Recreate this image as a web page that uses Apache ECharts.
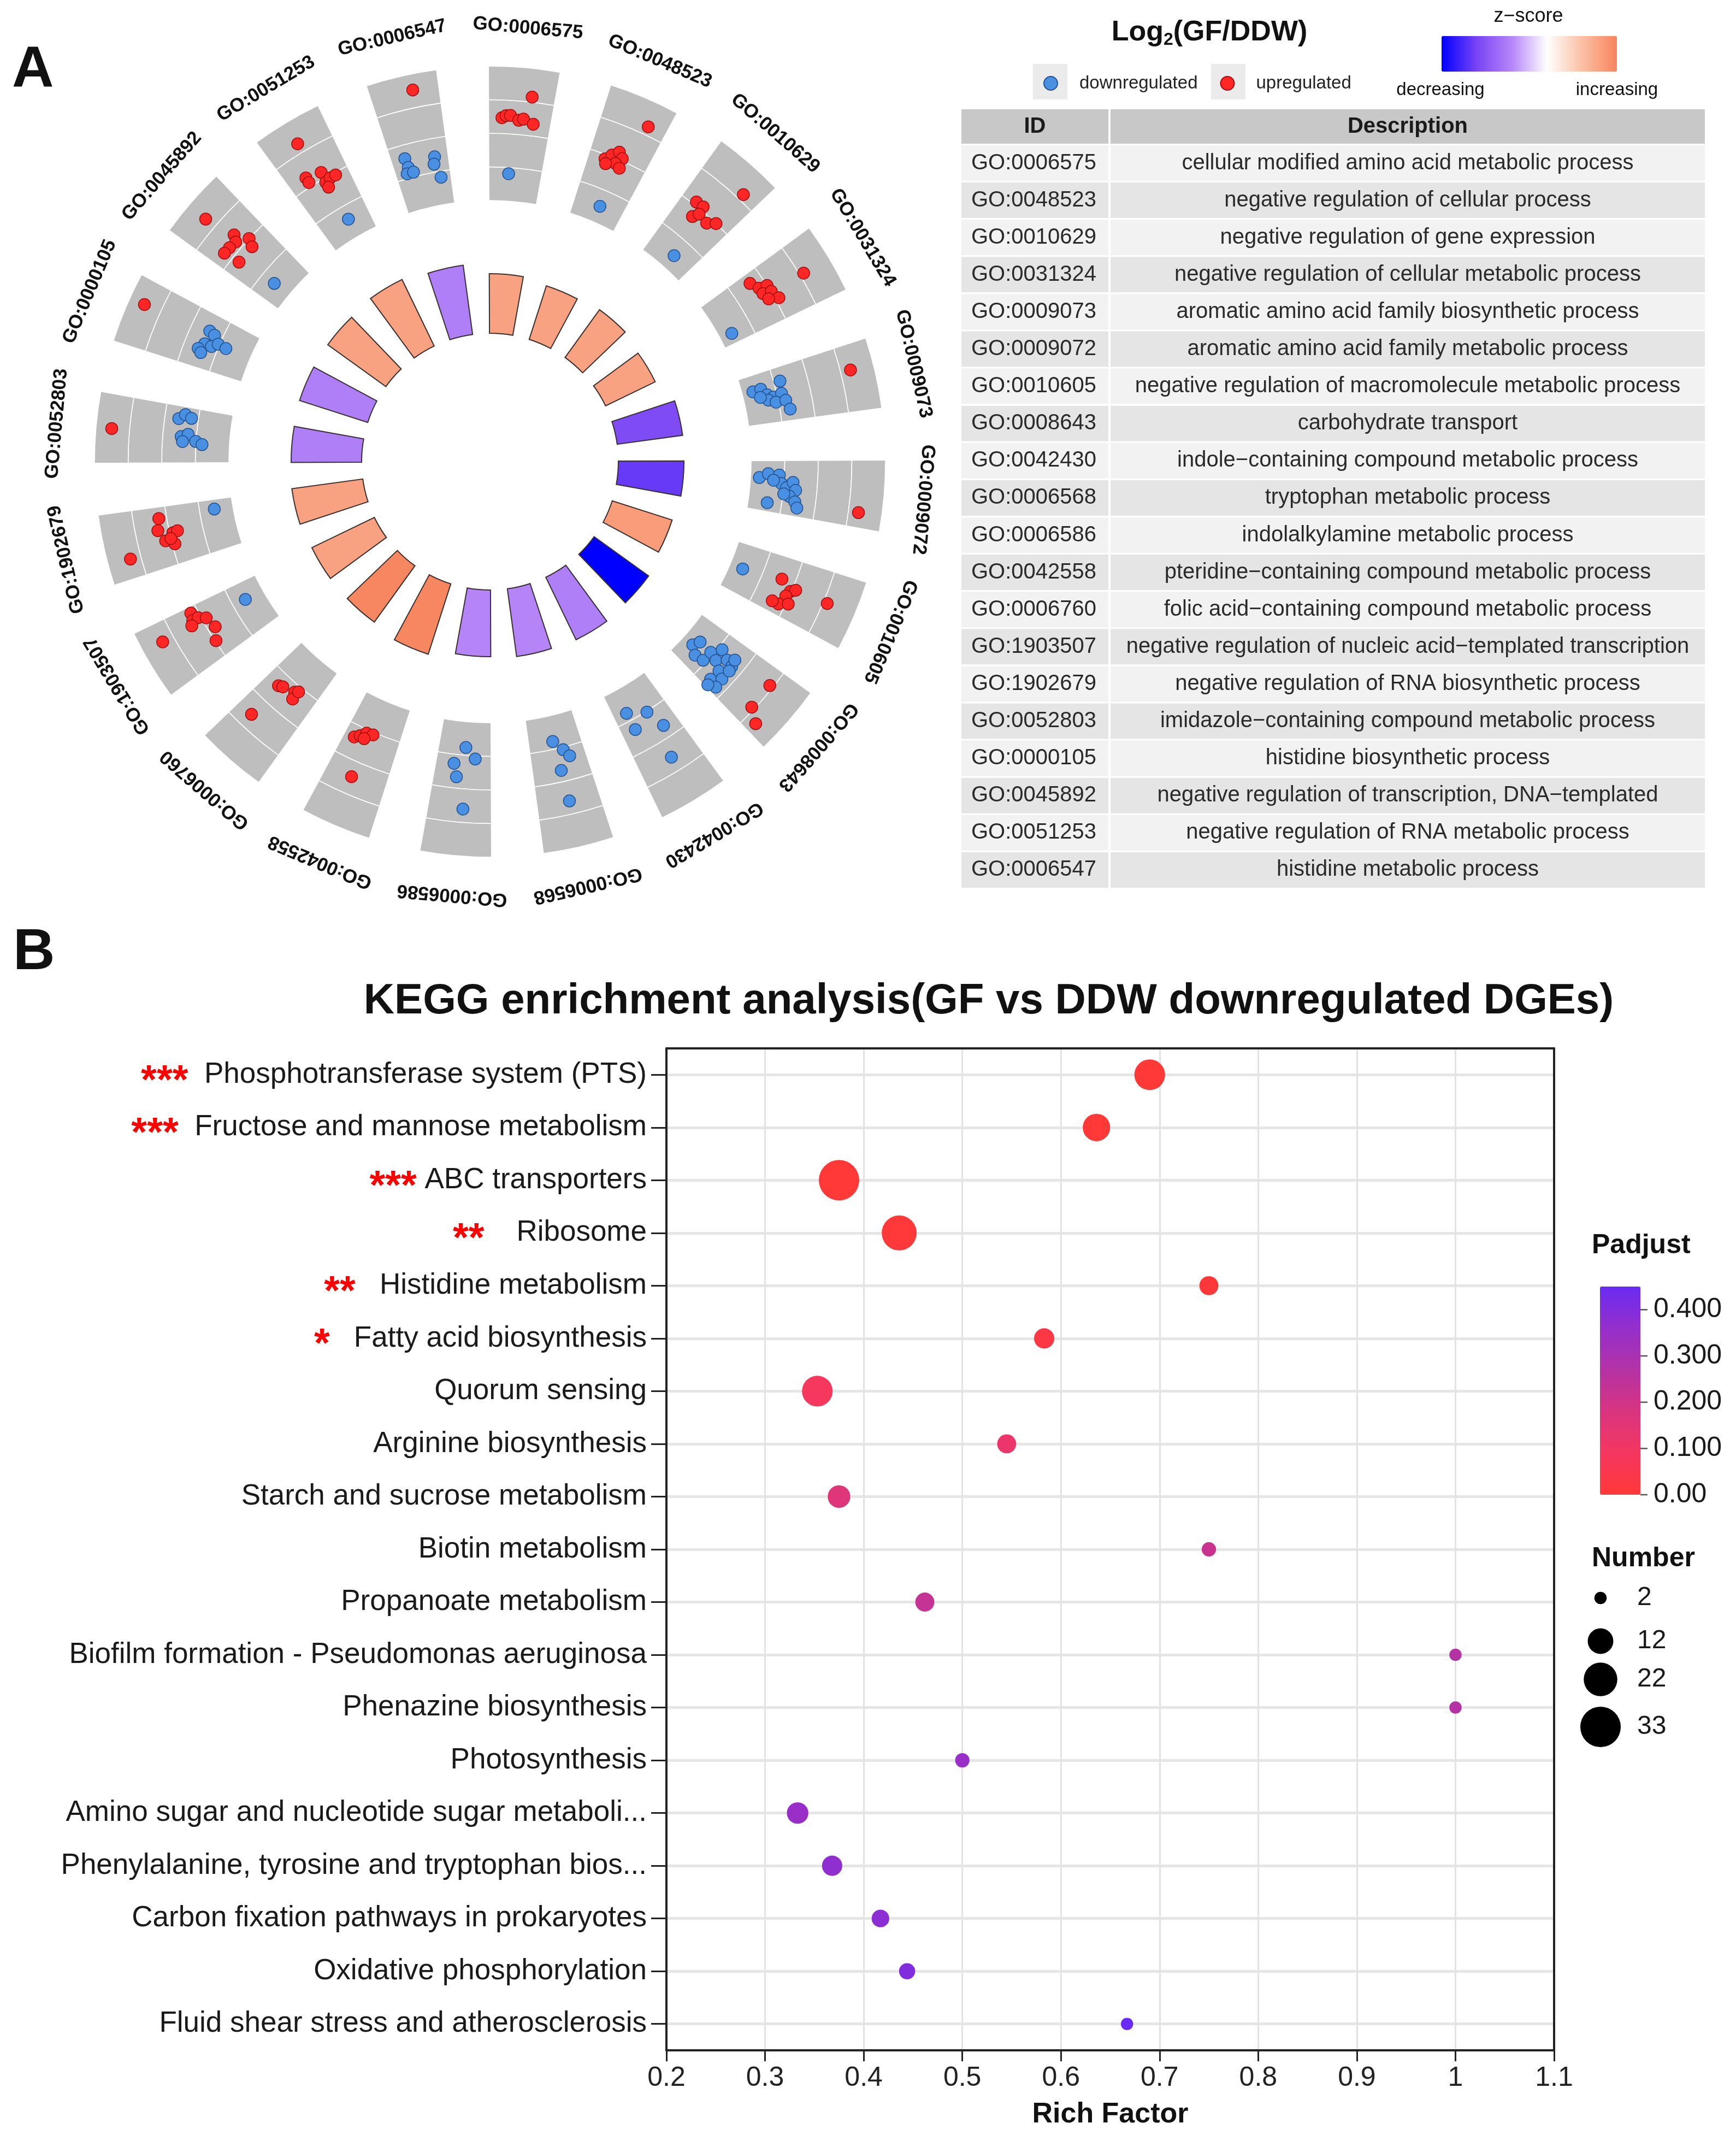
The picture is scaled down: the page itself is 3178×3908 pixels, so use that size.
<!DOCTYPE html>
<html><head><meta charset="utf-8">
<script src="https://cdn.jsdelivr.net/npm/echarts@6/dist/echarts.min.js"></script>
<style>html,body{margin:0;padding:0;background:#fff}#c{width:3178px;height:3908px}</style>
</head><body><div id="c"></div>
<script>
// ---------------- Panel A data ----------------
const goIds = ['GO:0006575','GO:0048523','GO:0010629','GO:0031324','GO:0009073','GO:0009072','GO:0010605','GO:0008643','GO:0042430','GO:0006568','GO:0006586','GO:0042558','GO:0006760','GO:1903507','GO:1902679','GO:0052803','GO:0000105','GO:0045892','GO:0051253','GO:0006547'];
const goDesc = ['cellular modified amino acid metabolic process','negative regulation of cellular process','negative regulation of gene expression','negative regulation of cellular metabolic process','aromatic amino acid family biosynthetic process','aromatic amino acid family metabolic process','negative regulation of macromolecule metabolic process','carbohydrate transport','indole\u2212containing compound metabolic process','tryptophan metabolic process','indolalkylamine metabolic process','pteridine\u2212containing compound metabolic process','folic acid\u2212containing compound metabolic process','negative regulation of nucleic acid\u2212templated transcription','negative regulation of RNA biosynthetic process','imidazole\u2212containing compound metabolic process','histidine biosynthetic process','negative regulation of transcription, DNA\u2212templated','negative regulation of RNA metabolic process','histidine metabolic process'];
// inner ring: significance (bar height) and z-score (colour)
const innerSig = [3.76,3.55,3.72,3.48,4.17,4.14,3.97,4.24,4.38,4.31,4.21,4.66,4.38,4.38,4.52,4.45,4.52,4.52,4.66,4.41];
const innerZ = [1.5,1.5,1.5,1.5,-1.9,-2.15,1.6,-3,-1.1,-1.0,-1.0,1.95,1.95,1.5,1.5,-1.1,-1.1,1.5,1.5,-1.1];
// outer ring genes: [position along circle (term units), log2FC]
const upDots = [
 [0.589,2.3],[0.333,0.94],[0.37,1.07],[0.411,1.1],[0.49,0.85],[0.533,0.94],[0.628,0.7],
 [1.628,2.5],[1.378,-0.26],[1.428,0.1],[1.483,0.42],[1.533,0.13],[1.489,-0.29],[1.544,-0.46],[1.40,-0.52],
 [2.639,2.37],[2.361,0.2],[2.44,0.23],[2.42,-0.62],[2.456,-0.26],[2.57,-0.36],[2.64,0],
 [3.5,2.24],[3.31,-0.78],[3.4,-0.49],[3.42,0],[3.466,-0.46],[3.49,0.03],[3.58,0.23],[3.54,-0.33],
 [4.43,2.6],
 [5.66,2.6],
 [6.44,-0.81],[6.52,-0.06],[6.49,0.2],[6.58,-0.2],[6.68,-0.39],[6.68,-0.81],[6.64,0.13],[6.49,2.24],
 [7.37,1.79],[7.62,1.82],[7.7,2.67],
 [11.68,-1.27],[11.63,-1.5],[11.58,-1.79],[11.51,-1.85],[11.58,-1.43],[11.54,0.94],
 [12.63,-1.2],[12.59,-1.33],[12.46,-1.56],[12.43,-1.17],[12.43,-1.72],[12.63,1.14],
 [13.73,0.42],[13.66,0.52],[13.66,0.16],[13.62,-0.26],[13.5,-0.46],[13.38,-0.06],[13.62,0.72],[13.62,2.7],
 [14.68,0.46],[14.57,0.65],[14.46,0.33],[14.52,-0.2],[14.53,-0.49],[14.41,-0.16],[14.47,0],[14.38,2.63],
 [15.5,3.06],
 [16.58,3.05],
 [17.47,2.7],[17.53,0.81],[17.49,0.46],[17.41,0.52],[17.34,0.55],[17.6,0],[17.56,-0.46],[17.36,-0.46],
 [18.49,2.57],[18.39,0.59],[18.39,0.26],[18.54,0.39],[18.53,-0.26],[18.59,-0.16],[18.65,-0.16],[18.53,-0.59],
 [19.57,3.05]
];
const downDots = [
 [0.428,-2.37],
 [1.517,-3.0],
 [2.544,-3.1],
 [3.67,-3.25],
 [4.396,-3.35],[4.39,-2.86],[4.47,-2.57],[4.51,-2.24],[4.49,-1.72],[4.36,-1.63],[4.53,-2.57],[4.57,-2.15],[4.57,-1.56],[4.67,-1.4],[4.48,-3.0],
 [5.41,-3.48],[5.36,-2.96],[5.37,-2.3],[5.46,-2.15],[5.5,-1.82],[5.44,-1.46],[5.52,-1.27],[5.59,-1.6],[5.64,-1.24],[5.7,-1.07],[5.69,-2.86],[5.43,-2.63],[5.57,-1.95],
 [6.5,-3.2],
 [7.56,-3.28],[7.48,-3.06],[7.63,-2.76],[7.61,-2.2],[7.49,-2.18],[7.52,-1.63],[7.39,-1.76],[7.44,-1.14],[7.46,-0.68],[7.58,-1.07],[7.7,-1.1],[7.62,-0.62],[7.51,-0.62],[7.39,-0.78],[7.72,-0.55],[7.76,-0.98],
 [8.64,-2.5],[8.44,-1.95],[8.64,-1.4],[8.37,-0.75],[8.47,1.1],
 [9.52,-2.47],[9.43,-1.85],[9.38,-1.4],[9.5,-0.68],[9.49,1.2],
 [10.49,-2.47],[10.38,-1.82],[10.6,-1.46],[10.56,-0.68],[10.47,1.2],
 [13.59,-2.83],
 [14.68,-2.89],
 [15.66,-0.84],[15.71,-1.2],[15.68,-1.59],[15.48,-1.1],[15.51,-1.5],[15.44,-1.98],[15.41,-2.37],[15.43,-1.2],
 [16.61,-1.14],[16.59,-1.5],[16.47,-1.17],[16.4,-0.91],[16.47,-1.6],[16.52,-1.92],[16.51,-2.44],[16.37,-1.14],
 [17.42,-2.89],
 [18.54,-2.83],
 [19.35,-0.81],[19.36,-1.37],[19.33,-1.72],[19.4,-1.72],[19.65,-1.1],[19.63,-1.53],[19.68,-2.37]
];
// ---------------- Panel B data ----------------
const keggTerms = ['Phosphotransferase system (PTS)','Fructose and mannose metabolism','ABC transporters','Ribosome','Histidine metabolism','Fatty acid biosynthesis','Quorum sensing','Arginine biosynthesis','Starch and sucrose metabolism','Biotin metabolism','Propanoate metabolism','Biofilm formation - Pseudomonas aeruginosa','Phenazine biosynthesis','Photosynthesis','Amino sugar and nucleotide sugar metaboli...','Phenylalanine, tyrosine and tryptophan bios...','Carbon fixation pathways in prokaryotes','Oxidative phosphorylation','Fluid shear stress and atherosclerosis'];
const keggStars = ['***','***','***','**','**','*','','','','','','','','','','','','',''];
const keggStarSpaces = [2,2,1,4,3,3,0,0,0,0,0,0,0,0,0,0,0,0,0];
const keggRich = [0.69,0.636,0.375,0.436,0.75,0.583,0.353,0.545,0.375,0.75,0.462,1,1,0.5,0.333,0.368,0.417,0.444,0.667];
const keggPadj = [0.0001,0.0002,0.0003,0.002,0.005,0.03,0.085,0.12,0.16,0.22,0.23,0.27,0.27,0.35,0.35,0.37,0.38,0.40,0.45];
const keggCount = [18,14,33,24,6,7,18,6,9,3,6,2,2,3,8,7,5,4,2];
const padjTicks = [0, 0.1, 0.2, 0.3, 0.4];
const padjTickLabels = ['0.00','0.100','0.200','0.300','0.400'];
const numberBreaks = [2, 12, 22, 33];

// ---------------- layout / styles ----------------
const FONT = '"Liberation Sans", Arial, sans-serif';
const CX = 897, CY = 845;
const sizeOf = n => 5.7 + 11.9 * Math.sqrt(n);

const chart = echarts.init(document.getElementById('c'), null, {renderer: 'canvas'});

const bandSeries = [0,1,2,3].map(b => ({
  type: 'bar', coordinateSystem: 'polar', polarIndex: 0, stack: 'ring', silent: true, z: 2,
  barCategoryGap: '42%',
  data: goIds.map(() => 1),
  itemStyle: {color: '#BEBEBE', borderColor: '#ffffff', borderWidth: 1.6}
}));

const series = bandSeries.concat([
  {
    name: 'downregulated', type: 'scatter', coordinateSystem: 'polar', polarIndex: 1, z: 4,
    symbolSize: 22, data: downDots.map(d => [d[1], d[0]]),
    itemStyle: {color: '#4A90E2', borderColor: '#23528f', borderWidth: 1.5, opacity: 1}
  },
  {
    name: 'upregulated', type: 'scatter', coordinateSystem: 'polar', polarIndex: 1, z: 4,
    symbolSize: 22, data: upDots.map(d => [d[1], d[0]]),
    itemStyle: {color: '#FF2626', borderColor: '#a01010', borderWidth: 1.5, opacity: 1}
  },
  {
    type: 'bar', coordinateSystem: 'polar', polarIndex: 2, z: 3, silent: true,
    barCategoryGap: '42%',
    encode: {radius: 0, angle: 1},
    data: goIds.map((id, i) => [innerSig[i], i, innerZ[i]]),
    itemStyle: {borderColor: '#3a3030', borderWidth: 2}
  },
  {
    type: 'custom', coordinateSystem: 'polar', polarIndex: 0, silent: true, z: 5,
    data: goIds.map((id, i) => [4, i]),
    renderItem: (params, api) => {
      const i = params.dataIndex;
      const p = api.coord([4, i]);
      const cs = params.coordSys;
      const dx = p[0] - cs.cx, dy = p[1] - cs.cy;
      const len = Math.hypot(dx, dy);
      const k = (len + 72) / len;
      const ang = Math.atan2(dy, dx);
      return {
        type: 'text', x: cs.cx + dx * k, y: cs.cy + dy * k, rotation: -(ang + Math.PI / 2),
        style: {text: goIds[i], fill: '#111', fontSize: 35, fontWeight: 'bold', fontFamily: FONT, align: 'center', verticalAlign: 'middle'}
      };
    }
  },
  {
    name: 'kegg', type: 'scatter', xAxisIndex: 0, yAxisIndex: 0, z: 4,
    encode: {x: 0, y: 1},
    data: keggTerms.map((t, i) => [keggRich[i], t, keggPadj[i], keggCount[i]]),
    symbolSize: v => sizeOf(v[3]),
    itemStyle: {opacity: 1}
  }
]);
const innerIdx = 6, keggIdx = 8;

// ---------------- graphics (labels, legends, table) ----------------
const g = [];
const txt = (x, y, text, size, opt) => Object.assign({
  type: 'text', x, y, silent: true,
  style: Object.assign({text, fontSize: size, fontFamily: FONT, fill: '#111', align: 'left', verticalAlign: 'middle'}, opt || {})
});
g.push(txt(22, 130, 'A', 106, {fontWeight: 'bold'}));
g.push(txt(24, 1745, 'B', 106, {fontWeight: 'bold'}));
g.push(txt(1810, 1833, 'KEGG enrichment analysis(GF vs DDW downregulated DGEs)', 78, {fontWeight: 'bold', align: 'center'}));
g.push({type: 'text', x: 2214, y: 60, silent: true, style: {
  text: '{a|Log}{b|2}{a|(GF/DDW)}', align: 'center', verticalAlign: 'middle', fill: '#111',
  rich: {a: {fontSize: 52, fontWeight: 'bold', fontFamily: FONT, fill: '#111'},
         b: {fontSize: 32, fontWeight: 'bold', fontFamily: FONT, fill: '#111', padding: [26, 0, 0, 0]}}
}});
g.push({type: 'rect', silent: true, shape: {x: 1891, y: 117, width: 63, height: 65}, style: {fill: '#EBEBEB'}});
g.push({type: 'rect', silent: true, shape: {x: 2217, y: 117, width: 63, height: 65}, style: {fill: '#EBEBEB'}});
g.push(txt(2798, 30, 'z\u2212score', 36, {align: 'center'}));
g.push(txt(2637, 165, 'decreasing', 33, {align: 'center'}));
g.push(txt(2960, 165, 'increasing', 33, {align: 'center'}));
// table
const TX = 1760, IDW = 269, DX = 2033, DW = 1088, HY = 200, HH = 63, RY = 266, RS = 68.1, RH = 65;
g.push({type: 'rect', silent: true, shape: {x: TX, y: HY, width: IDW, height: HH}, style: {fill: '#C8C8C8'}});
g.push({type: 'rect', silent: true, shape: {x: DX, y: HY, width: DW, height: HH}, style: {fill: '#C8C8C8'}});
g.push(txt(TX + IDW / 2, HY + HH / 2, 'ID', 40, {fontWeight: 'bold', align: 'center', fill: '#1a1a1a'}));
g.push(txt(DX + DW / 2, HY + HH / 2, 'Description', 40, {fontWeight: 'bold', align: 'center', fill: '#1a1a1a'}));
goIds.forEach((id, i) => {
  const y = RY + RS * i;
  const fill = i % 2 === 0 ? '#F2F2F2' : '#E5E5E5';
  g.push({type: 'rect', silent: true, shape: {x: TX, y, width: IDW, height: RH}, style: {fill}});
  g.push({type: 'rect', silent: true, shape: {x: DX, y, width: DW, height: RH}, style: {fill}});
  g.push(txt(TX + 18, y + RH / 2, id, 40, {fill: '#2a2a2a'}));
  g.push(txt(DX + DW / 2, y + RH / 2, goDesc[i], 40, {fill: '#2a2a2a', align: 'center'}));
});
// Padjust legend
const PB_TOP = 2355, PB_H = 381, PB_X = 2929, PB_W = 74, PMAX = 0.45;
g.push(txt(2914, 2280, 'Padjust', 50, {fontWeight: 'bold'}));
padjTicks.forEach((v, i) => {
  const y = PB_TOP + PB_H - v / PMAX * PB_H;
  g.push({type: 'line', silent: true, z: 10, shape: {x1: PB_X + PB_W, y1: y, x2: PB_X + PB_W + 13, y2: y}, style: {stroke: '#555', lineWidth: 2.5}});
  g.push(txt(3027, y, padjTickLabels[i], 50, {fill: '#1a1a1a'}));
});
// Number legend
g.push(txt(2914, 2853, 'Number', 50, {fontWeight: 'bold'}));
const numY = [2925, 3004, 3074, 3161];
numberBreaks.forEach((n, i) => {
  g.push({type: 'circle', silent: true, shape: {cx: 2930, cy: numY[i], r: sizeOf(n) / 2}, style: {fill: '#000'}});
  g.push(txt(2997, numY[i], String(n), 48, {fill: '#1a1a1a'}));
});

const option = {
  backgroundColor: '#ffffff',
  animation: false,
  textStyle: {fontFamily: FONT},
  legend: {
    data: ['downregulated', 'upregulated'], orient: 'horizontal', left: 1910, top: 136, padding: 0,
    itemWidth: 25, itemHeight: 25, itemGap: 41, icon: 'circle', selectedMode: false,
    textStyle: {fontSize: 33, color: '#222', fontFamily: FONT, padding: [0, 0, 0, 35]}
  },
  polar: [
    {center: [CX, CY], radius: [478, 724]},
    {center: [CX, CY], radius: [478, 724]},
    {center: [CX, CY], radius: [235, 380]}
  ],
  angleAxis: [
    {polarIndex: 0, type: 'category', data: goIds, startAngle: 94, clockwise: true, show: false},
    {polarIndex: 1, type: 'value', min: 0, max: 20, startAngle: 94, clockwise: true, show: false},
    {polarIndex: 2, type: 'category', data: goIds, startAngle: 94, clockwise: true, show: false}
  ],
  radiusAxis: [
    {polarIndex: 0, type: 'value', min: 0, max: 4, show: false},
    {polarIndex: 1, type: 'value', min: -4, max: 4, show: false},
    {polarIndex: 2, type: 'value', min: 0, max: 5, show: false}
  ],
  grid: [{left: 1220, top: 1919, width: 1625, height: 1834, containLabel: false}],
  xAxis: [
    {
      gridIndex: 0, type: 'value', min: 0.2, max: 1.1, interval: 0.1, position: 'bottom',
      axisLine: {show: true, onZero: false, lineStyle: {color: '#222', width: 4}},
      axisTick: {show: true, length: 20, lineStyle: {color: '#222', width: 3}},
      axisLabel: {fontSize: 50, color: '#222', margin: 26, fontFamily: FONT},
      splitLine: {show: true, showMinLine: false, showMaxLine: false, lineStyle: {color: '#E3E3E3', width: 3}},
      name: 'Rich Factor', nameLocation: 'middle', nameGap: 92,
      nameTextStyle: {fontSize: 52, fontWeight: 'bold', color: '#111', fontFamily: FONT}
    },
    {
      gridIndex: 0, type: 'value', min: 0.2, max: 1.1, position: 'top',
      axisLine: {show: true, onZero: false, lineStyle: {color: '#222', width: 4}},
      axisTick: {show: false}, axisLabel: {show: false}, splitLine: {show: false}
    }
  ],
  yAxis: [
    {
      gridIndex: 0, type: 'category', data: keggTerms, inverse: true,
      axisLine: {show: true, onZero: false, lineStyle: {color: '#222', width: 4}},
      axisTick: {show: true, alignWithLabel: true, length: 28, lineStyle: {color: '#222', width: 3}},
      axisLabel: {
        fontSize: 53, color: '#1a1a1a', margin: 36, fontFamily: FONT,
        formatter: (v, i) => keggStars[i] ? '{s|' + keggStars[i] + '}' + ' '.repeat(keggStarSpaces[i]) + v : v,
        rich: {s: {color: '#FF0000', fontSize: 74, fontWeight: 'bold', fontFamily: FONT, padding: [26, 0, 0, 0]}}
      },
      splitLine: {show: true, alignWithLabel: true, lineStyle: {color: '#E6E6E6', width: 5}}
    },
    {
      gridIndex: 0, type: 'category', data: keggTerms, inverse: true, position: 'right',
      axisLine: {show: true, onZero: false, lineStyle: {color: '#222', width: 4}},
      axisTick: {show: false}, axisLabel: {show: false}, splitLine: {show: false}
    }
  ],
  visualMap: [
    {
      type: 'continuous', seriesIndex: [innerIdx], dimension: 2, min: -3, max: 2,
      inRange: {color: ['#0000FF', '#7844F5', '#B585F8', '#FFFFFF', '#FBC0A6', '#F7845D']},
      orient: 'horizontal', left: 2639, top: 66, itemWidth: 65, itemHeight: 321,
      calculable: false, padding: 0, hoverLink: false
    },
    {
      type: 'continuous', seriesIndex: [keggIdx], dimension: 2, min: 0, max: PMAX,
      inRange: {color: ['#FF3838', '#F53760', '#D93480', '#B532A5', '#952FCC', '#6A2BF2']},
      orient: 'vertical', left: PB_X, top: PB_TOP, itemWidth: PB_W, itemHeight: PB_H,
      calculable: false, padding: 0, hoverLink: false
    }
  ],
  graphic: g,
  series
};
chart.setOption(option);
</script>
</body></html>
